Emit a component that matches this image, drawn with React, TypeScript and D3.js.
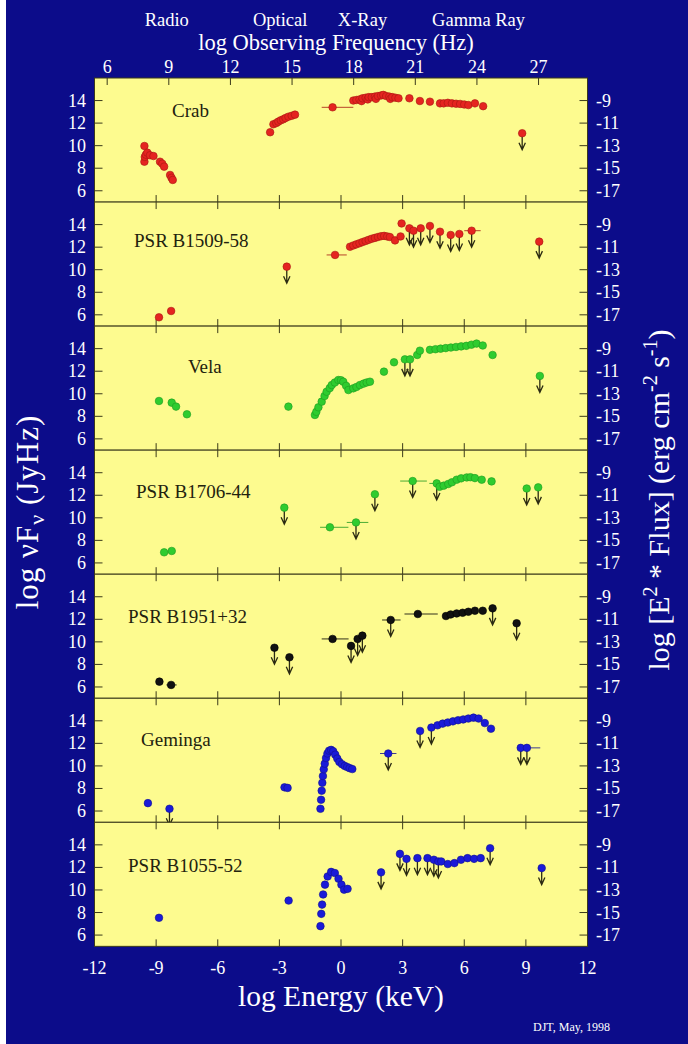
import React from "react";
import * as d3 from "d3";

const W = 688;
const H = 1044;
const LOG_HZ_PER_KEV = 17.383; // log10(2.418e17)
const JYHZ_TO_CGS = 23;

type Pt = { e: number; f: number; ul?: boolean; lo?: number; hi?: number };

// log Energy (keV), log nuFnu (JyHz)
const crab: Pt[] = [
  { e: -9.57, f: 9.97 }, { e: -9.57, f: 8.58 }, { e: -9.55, f: 9.0 }, { e: -9.5, f: 9.2 },
  { e: -9.43, f: 9.38 }, { e: -9.3, f: 9.15 }, { e: -9.13, f: 9.08 }, { e: -8.81, f: 8.58 },
  { e: -8.7, f: 8.4 }, { e: -8.61, f: 8.14 }, { e: -8.32, f: 7.4 }, { e: -8.25, f: 7.15 },
  { e: -8.19, f: 6.96 },
  { e: -3.45, f: 11.19 }, { e: -3.29, f: 11.9 }, { e: -3.15, f: 12.0 }, { e: -3.05, f: 12.13 },
  { e: -2.93, f: 12.25 }, { e: -2.81, f: 12.34 }, { e: -2.7, f: 12.45 }, { e: -2.56, f: 12.57 },
  { e: -2.4, f: 12.65 }, { e: -2.24, f: 12.75 },
  { e: -0.41, f: 13.4, lo: -0.94, hi: 0.6 },
  { e: 0.6, f: 14.0 }, { e: 0.75, f: 14.05 }, { e: 0.9, f: 14.1 }, { e: 1.0, f: 13.95 },
  { e: 1.05, f: 14.2 }, { e: 1.2, f: 14.25 }, { e: 1.3, f: 14.1 }, { e: 1.35, f: 14.3 },
  { e: 1.5, f: 14.3 }, { e: 1.65, f: 14.35 }, { e: 1.7, f: 14.15 }, { e: 1.8, f: 14.4 },
  { e: 1.95, f: 14.45 }, { e: 2.06, f: 14.5 }, { e: 2.2, f: 14.4 }, { e: 2.35, f: 14.35 },
  { e: 2.4, f: 14.15 }, { e: 2.5, f: 14.3 }, { e: 2.65, f: 14.25 }, { e: 2.8, f: 14.2 },
  { e: 3.33, f: 14.2 }, { e: 3.84, f: 13.96 }, { e: 4.33, f: 13.9 }, { e: 4.82, f: 13.75 },
  { e: 5.0, f: 13.75 }, { e: 5.2, f: 13.8 }, { e: 5.4, f: 13.75 }, { e: 5.6, f: 13.72 },
  { e: 5.8, f: 13.7 }, { e: 6.0, f: 13.65 }, { e: 6.2, f: 13.6 }, { e: 6.52, f: 13.75 },
  { e: 6.92, f: 13.5 },
  { e: 8.82, f: 11.1, ul: true },
];

const b1509: Pt[] = [
  { e: -8.86, f: 5.78 }, { e: -8.27, f: 6.34 },
  { e: -2.64, f: 10.27, ul: true },
  { e: -0.29, f: 11.31, lo: -0.7, hi: 0.28 },
  { e: 0.44, f: 12.04 }, { e: 0.6, f: 12.15 }, { e: 0.75, f: 12.25 }, { e: 0.9, f: 12.35 },
  { e: 1.05, f: 12.45 }, { e: 1.2, f: 12.55 }, { e: 1.35, f: 12.65 }, { e: 1.5, f: 12.75 },
  { e: 1.65, f: 12.82 }, { e: 1.8, f: 12.9 }, { e: 1.95, f: 12.97 }, { e: 2.1, f: 13.0 },
  { e: 2.25, f: 12.95 }, { e: 2.38, f: 12.9 }, { e: 2.63, f: 12.6 }, { e: 2.9, f: 12.95 },
  { e: 2.95, f: 14.1 },
  { e: 3.33, f: 13.67, ul: true }, { e: 3.53, f: 13.46, ul: true }, { e: 3.88, f: 13.67, ul: true },
  { e: 4.33, f: 13.88, ul: true }, { e: 4.82, f: 13.37, ul: true }, { e: 5.34, f: 13.08, ul: true },
  { e: 5.76, f: 13.17, ul: true }, { e: 6.36, f: 13.46, ul: true, lo: 6.0, hi: 6.8 },
  { e: 9.65, f: 12.49, ul: true },
];

const vela: Pt[] = [
  { e: -8.86, f: 9.36 }, { e: -8.24, f: 9.21 }, { e: -8.03, f: 8.86 }, { e: -7.5, f: 8.18 },
  { e: -2.56, f: 8.86 },
  { e: -1.27, f: 8.12 }, { e: -1.2, f: 8.4 }, { e: -1.1, f: 8.8 }, { e: -0.94, f: 9.3 },
  { e: -0.8, f: 9.8 }, { e: -0.7, f: 10.18 }, { e: -0.55, f: 10.5 }, { e: -0.45, f: 10.77 },
  { e: -0.3, f: 11.0 }, { e: -0.13, f: 11.22 }, { e: 0.0, f: 11.2 }, { e: 0.11, f: 11.07 },
  { e: 0.25, f: 10.7 }, { e: 0.36, f: 10.33 }, { e: 0.6, f: 10.48 }, { e: 0.75, f: 10.6 },
  { e: 0.92, f: 10.77 }, { e: 1.1, f: 10.9 }, { e: 1.25, f: 11.0 }, { e: 1.41, f: 11.07 },
  { e: 2.09, f: 11.96 }, { e: 2.58, f: 12.79 },
  { e: 3.11, f: 13.05, ul: true }, { e: 3.36, f: 13.05, ul: true },
  { e: 3.71, f: 13.44 }, { e: 3.84, f: 13.82 },
  { e: 4.33, f: 13.9 }, { e: 4.6, f: 13.95 }, { e: 4.85, f: 14.0 }, { e: 5.1, f: 14.05 },
  { e: 5.35, f: 14.1 }, { e: 5.6, f: 14.15 }, { e: 5.85, f: 14.2 }, { e: 6.1, f: 14.25 },
  { e: 6.35, f: 14.35 }, { e: 6.6, f: 14.45 }, { e: 6.9, f: 14.28 }, { e: 7.38, f: 13.44 },
  { e: 9.68, f: 11.58, ul: true },
];

const b1706: Pt[] = [
  { e: -8.61, f: 6.94 }, { e: -8.24, f: 7.06 },
  { e: -2.76, f: 10.9, ul: true },
  { e: -0.54, f: 9.16, lo: -1.02, hi: 0.36 },
  { e: 0.73, f: 9.59, ul: true, lo: 0.28, hi: 1.33 },
  { e: 1.65, f: 12.09, ul: true },
  { e: 3.49, f: 13.26, ul: true, lo: 2.88, hi: 4.18 },
  { e: 4.66, f: 13.05, ul: true, lo: 4.3, hi: 5.0 },
  { e: 4.8, f: 12.75 }, { e: 5.0, f: 12.85 }, { e: 5.22, f: 13.0 }, { e: 5.4, f: 13.15 },
  { e: 5.63, f: 13.38 }, { e: 5.85, f: 13.5 }, { e: 6.12, f: 13.58 }, { e: 6.3, f: 13.6 },
  { e: 6.52, f: 13.52 }, { e: 6.85, f: 13.38 }, { e: 7.33, f: 13.23 },
  { e: 9.04, f: 12.6, ul: true }, { e: 9.6, f: 12.7, ul: true },
];

const b1951: Pt[] = [
  { e: -8.84, f: 6.47 }, { e: -8.27, f: 6.18, lo: -8.5, hi: -8.0 },
  { e: -3.24, f: 9.48, ul: true }, { e: -2.51, f: 8.63, ul: true },
  { e: -0.41, f: 10.26, lo: -0.94, hi: 0.37 },
  { e: 0.49, f: 9.64, ul: true }, { e: 0.81, f: 10.26, ul: true }, { e: 1.04, f: 10.55, ul: true },
  { e: 2.42, f: 11.94, ul: true, lo: 2.0, hi: 2.9 },
  { e: 3.74, f: 12.47, lo: 3.09, hi: 4.71 },
  { e: 5.11, f: 12.29 }, { e: 5.34, f: 12.43 }, { e: 5.63, f: 12.52 }, { e: 5.92, f: 12.58 },
  { e: 6.2, f: 12.67 }, { e: 6.52, f: 12.76 }, { e: 6.9, f: 12.76 },
  { e: 7.38, f: 12.97, ul: true },
  { e: 8.55, f: 11.65, ul: true },
];

const geminga: Pt[] = [
  { e: -9.4, f: 6.7 }, { e: -8.35, f: 6.2, ul: true },
  { e: -2.75, f: 8.1 }, { e: -2.6, f: 8.05 },
  { e: -1.0, f: 6.2 }, { e: -0.97, f: 7.0 }, { e: -0.94, f: 7.8 }, { e: -0.91, f: 8.5 },
  { e: -0.88, f: 9.1 }, { e: -0.84, f: 9.7 }, { e: -0.79, f: 10.2 }, { e: -0.73, f: 10.7 },
  { e: -0.66, f: 11.1 }, { e: -0.58, f: 11.35 }, { e: -0.48, f: 11.42 }, { e: -0.38, f: 11.3 },
  { e: -0.28, f: 11.0 }, { e: -0.18, f: 10.65 }, { e: -0.08, f: 10.35 }, { e: 0.05, f: 10.15 },
  { e: 0.18, f: 10.0 }, { e: 0.3, f: 9.9 }, { e: 0.42, f: 9.8 }, { e: 0.55, f: 9.72 },
  { e: 2.3, f: 11.1, ul: true, lo: 1.9, hi: 2.7 },
  { e: 3.85, f: 13.1, ul: true }, { e: 4.4, f: 13.4, ul: true },
  { e: 4.7, f: 13.6 }, { e: 4.95, f: 13.75 }, { e: 5.2, f: 13.85 }, { e: 5.45, f: 13.95 },
  { e: 5.7, f: 14.05 }, { e: 5.95, f: 14.12 }, { e: 6.2, f: 14.2 }, { e: 6.45, f: 14.28 },
  { e: 6.7, f: 14.2 }, { e: 7.0, f: 13.8 }, { e: 7.3, f: 13.3 },
  { e: 8.75, f: 11.6, ul: true }, { e: 9.05, f: 11.6, ul: true, lo: 9.05, hi: 9.7 },
];

const b1055: Pt[] = [
  { e: -8.86, f: 7.53 },
  { e: -2.55, f: 9.06 },
  { e: -1.0, f: 6.79 }, { e: -0.96, f: 7.88 }, { e: -0.92, f: 8.7 }, { e: -0.87, f: 9.6 },
  { e: -0.78, f: 10.47 }, { e: -0.65, f: 11.2 }, { e: -0.48, f: 11.6 }, { e: -0.3, f: 11.5 },
  { e: -0.12, f: 11.0 }, { e: 0.02, f: 10.47 }, { e: 0.15, f: 10.03 }, { e: 0.32, f: 10.1 },
  { e: 1.95, f: 11.56, ul: true },
  { e: 2.87, f: 13.2, ul: true }, { e: 3.19, f: 12.76, ul: true }, { e: 3.72, f: 12.82, ul: true },
  { e: 4.21, f: 12.82, ul: true }, { e: 4.52, f: 12.68, ul: true }, { e: 4.74, f: 12.53, ul: true },
  { e: 4.88, f: 12.53 }, { e: 5.2, f: 12.3 }, { e: 5.52, f: 12.38 }, { e: 5.84, f: 12.68 },
  { e: 6.16, f: 12.82 }, { e: 6.48, f: 12.76 }, { e: 6.8, f: 12.82 },
  { e: 7.26, f: 13.7, ul: true },
  { e: 9.77, f: 11.94, ul: true },
];

const pulsarNames = ["Crab", "PSR B1509-58", "Vela", "PSR B1706-44", "PSR B1951+32", "Geminga", "PSR B1055-52"];
const pulsarData = [crab, b1509, vela, b1706, b1951, geminga, b1055];
const pulsarColors = ["#e52420", "#e52420", "#2fcc2f", "#2fcc2f", "#111111", "#1a1ad8", "#1a1ad8"];
const pulsarEdges = ["#a81810", "#a81810", "#1f9a1f", "#1f9a1f", "#000000", "#10108f", "#10108f"];

const energyTicks = [-12, -9, -6, -3, 0, 3, 6, 9, 12];
const freqTicks = [6, 9, 12, 15, 18, 21, 24, 27];
const leftTicks = [6, 8, 10, 12, 14];
const rightTicks = [-17, -15, -13, -11, -9];
const bandNames = ["Radio", "Optical", "X-Ray", "Gamma Ray"];
const bandFreqs = [8.9, 14.42, 18.43, 24.08];

// layout
const PLOT_L = 94.5;
const PLOT_R = 587.5;
const PLOT_T = 78;
const PANEL_H = 124.05;
const labelPos = [
  { x: 172, dy: 39 }, { x: 134, dy: 45 }, { x: 188, dy: 47 }, { x: 136, dy: 47.5 },
  { x: 128, dy: 48.5 }, { x: 141, dy: 48 }, { x: 128, dy: 50 },
];

const FONT = "'Liberation Serif', 'Times New Roman', serif";
const BLUE = "#0c0c8a";
const YELLOW = "#fdfb8f";
const FRAME = "#3b3a1a";

export default function App() {
  const x = d3.scaleLinear().domain([-12, 12]).range([PLOT_L, PLOT_R]);
  const xf = d3.scaleLinear().domain([-12 + LOG_HZ_PER_KEV, 12 + LOG_HZ_PER_KEV]).range([PLOT_L, PLOT_R]);

  const panels = pulsarNames.map((name, i) => {
    const top = PLOT_T + i * PANEL_H;
    const y = d3.scaleLinear().domain([5, 16]).range([top + PANEL_H, top]);
    const yr = d3.scaleLinear().domain([5 - JYHZ_TO_CGS, 16 - JYHZ_TO_CGS]).range([top + PANEL_H, top]);
    return { name, i, top, y, yr, data: pulsarData[i], color: pulsarColors[i], edge: pulsarEdges[i] };
  });
  const bottom = PLOT_T + 7 * PANEL_H;

  return (
    <svg width={W} height={H} style={{ position: "absolute", left: 0, top: 0, display: "block" }} fontFamily={FONT}>
      <rect x={0} y={0} width={W} height={H} fill="#ffffff" />
      <rect x={6} y={0} width={W - 6} height={H} fill={BLUE} />

      {bandNames.map((b, k) => (
        <text key={b} x={xf(bandFreqs[k])} y={26} fill="#fff" fontSize={18.5} textAnchor="middle">{b}</text>
      ))}
      <text x={336} y={50} fill="#fff" fontSize={22.5} textAnchor="middle">log Observing Frequency (Hz)</text>
      {freqTicks.map((t) => (
        <text key={t} x={xf(t)} y={73} fill="#fff" fontSize={18} textAnchor="middle">{t}</text>
      ))}

      {panels.map((p) => (
        <g key={p.name}>
          <rect x={PLOT_L} y={p.top} width={PLOT_R - PLOT_L} height={PANEL_H} fill={YELLOW} stroke={FRAME} strokeWidth={1} />
          {p.i === 0
            ? freqTicks.map((t) => (
                <line key={"f" + t} x1={xf(t)} x2={xf(t)} y1={p.top} y2={p.top + 7} stroke={FRAME} />
              ))
            : energyTicks.slice(1, -1).map((t) => (
                <line key={"t" + t} x1={x(t)} x2={x(t)} y1={p.top} y2={p.top + 7} stroke={FRAME} />
              ))}
          {energyTicks.slice(1, -1).map((t) => (
            <line key={"b" + t} x1={x(t)} x2={x(t)} y1={p.top + PANEL_H} y2={p.top + PANEL_H - 7} stroke={FRAME} />
          ))}
          {leftTicks.map((t) => (
            <g key={"l" + t}>
              <line x1={PLOT_L} x2={PLOT_L + 8} y1={p.y(t)} y2={p.y(t)} stroke={FRAME} />
              <text x={86} y={p.y(t) + 6} fill="#fff" fontSize={18} textAnchor="end">{t}</text>
            </g>
          ))}
          {rightTicks.map((t) => (
            <g key={"r" + t}>
              <line x1={PLOT_R - 8} x2={PLOT_R} y1={p.yr(t)} y2={p.yr(t)} stroke={FRAME} />
              <text x={596} y={p.yr(t) + 6} fill="#fff" fontSize={18} textAnchor="start">{t}</text>
            </g>
          ))}
          <text x={labelPos[p.i].x} y={p.top + labelPos[p.i].dy} fill="#22220e" fontSize={19}>{p.name}</text>

          {p.data.filter((d) => d.lo !== undefined).map((d, k) => (
            <line key={"e" + k} x1={x(d.lo!)} x2={x(d.hi!)} y1={p.y(d.f)} y2={p.y(d.f)} stroke={p.edge} strokeWidth={1} opacity={0.8} />
          ))}
          {p.data.filter((d) => d.ul).map((d, k) => {
            const cx = x(d.e);
            const cy = p.y(d.f);
            return (
              <path key={"u" + k}
                d={`M${cx},${cy + 3}V${cy + 16}M${cx - 3.2},${cy + 9.5}L${cx},${cy + 16.5}L${cx + 3.2},${cy + 9.5}`}
                stroke="#2b2a12" strokeWidth={1.3} fill="none" />
            );
          })}
          {p.data.map((d, k) => (
            <circle key={"c" + k} cx={x(d.e)} cy={p.y(d.f)} r={3.8} fill={p.color} stroke={p.edge} strokeWidth={0.6} />
          ))}
        </g>
      ))}

      {energyTicks.map((t) => (
        <text key={"xe" + t} x={x(t)} y={bottom + 28} fill="#fff" fontSize={18} textAnchor="middle">{t}</text>
      ))}
      <text x={(PLOT_L + PLOT_R) / 2} y={1006} fill="#fff" fontSize={29.5} textAnchor="middle">log Energy (keV)</text>
      <text x={610} y={1031} fill="#fff" fontSize={12} textAnchor="end">DJT, May, 1998</text>

      <text transform={`translate(38, 512) rotate(-90)`} fill="#fff" fontSize={31} letterSpacing={1} textAnchor="middle">
        log νF<tspan dy={6} fontSize={22}>ν</tspan><tspan dy={-6}> (JyHz)</tspan>
      </text>
      <text transform={`translate(669, 500) rotate(-90)`} fill="#fff" fontSize={30} textAnchor="middle">
        log [E<tspan dy={-12} fontSize={20}>2</tspan><tspan dy={12}> * Flux] (erg cm</tspan>
        <tspan dy={-12} fontSize={20}>-2</tspan><tspan dy={12}> s</tspan>
        <tspan dy={-12} fontSize={20}>-1</tspan><tspan dy={12}>)</tspan>
      </text>
    </svg>
  );
}
